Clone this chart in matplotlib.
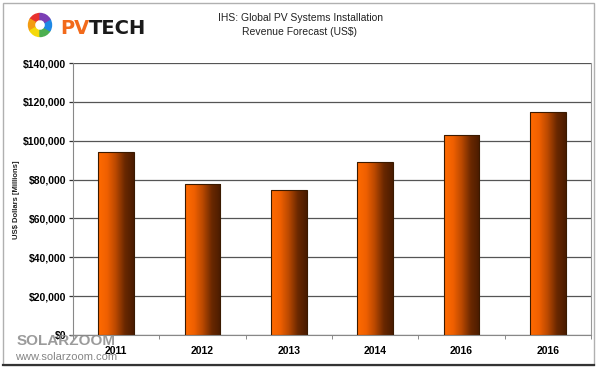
import numpy as np
import matplotlib.pyplot as plt
from matplotlib.patches import Rectangle, Wedge
from matplotlib.colors import LinearSegmentedColormap
from matplotlib.ticker import FuncFormatter

years = ['2011', '2012', '2013', '2014', '2016', '2016']
revenue = [94000, 77500, 74500, 89000, 102800, 115000]   # US$ millions
y_ticks = [0, 20000, 40000, 60000, 80000, 100000, 120000, 140000]

plt.rcParams['font.family'] = ['Liberation Sans', 'DejaVu Sans']

fig = plt.figure(figsize=(6.0, 3.69), dpi=100)
fig.patch.set_facecolor('white')

# frame around the whole picture
fig.add_artist(Rectangle((0.005, 0.01), 0.985, 0.982, transform=fig.transFigure,
                         fill=False, edgecolor='#b0b0b0', lw=1.0))
fig.add_artist(plt.Line2D([0.005, 0.99], [0.01, 0.01], transform=fig.transFigure,
                          color='#333333', lw=1.6))

ax = fig.add_axes([0.1217, 0.0921, 0.8633, 0.7369])
x = np.arange(len(years))

# bars with orange -> brown shading
cmap = LinearSegmentedColormap.from_list('bar', ['#ff6a00', '#f06000', '#b84800', '#6a2800', '#4a1c00'])
grad = np.linspace(0, 1, 64).reshape(1, -1)
bars = ax.bar(x, revenue, width=0.41, color='none', edgecolor='#3a1a00', lw=0.8, zorder=3)
for b in bars:
    x0, y0 = b.get_x(), b.get_y()
    w, h = b.get_width(), b.get_height()
    im = ax.imshow(grad, cmap=cmap, aspect='auto', extent=[x0, x0 + w, y0, y0 + h],
                   zorder=2, interpolation='bicubic')
    im.set_clip_path(b)

ax.set_xlim(-0.5, len(years) - 0.5)
ax.set_ylim(0, 140000)
ax.set_yticks(y_ticks)
ax.yaxis.set_major_formatter(FuncFormatter(lambda v, p: '\\$' + format(int(v), ',')))
ax.grid(axis='y', color='#555555', lw=0.9, zorder=1)
ax.set_axisbelow(True)

ax.set_xticks(x)
ax.set_xticklabels(years)
ax.set_xticks(np.arange(len(years) + 1) - 0.5, minor=True)
ax.tick_params(axis='x', which='major', length=0, pad=8, labelsize=7.5)
ax.tick_params(axis='x', which='minor', length=3, color='#777777')
ax.tick_params(axis='y', length=3, width=0.9, color='#333333', labelsize=7.5, pad=2)
for lab in ax.get_xticklabels() + ax.get_yticklabels():
    lab.set_fontweight('bold')

ax.spines['top'].set_visible(False)
ax.spines['right'].set_color('#999999')
ax.spines['left'].set_color('#888888')
ax.spines['bottom'].set_color('#888888')

fig.text(0.028, 0.458, 'US\\$ Dollars [Millions]', rotation=90, ha='center', va='center',
         fontsize=5.5, fontweight='bold', color='#222222')

# title
fig.text(0.50, 0.950, 'IHS: Global PV Systems Installation', ha='center', va='center',
         fontsize=7.5, color='#222222')
fig.text(0.50, 0.912, 'Revenue Forecast (US\\$)', ha='center', va='center',
         fontsize=7.5, color='#222222')

# PVTECH logo
ring_colors = ['#e8312f', '#f39c12', '#f5d90a', '#4caf50', '#1e88e5', '#7b3fb5']
for i, c in enumerate(ring_colors):
    fig.add_artist(Wedge((40, 369 - 25), 11.5, 90 + i * 60, 150 + i * 60, width=6,
                         transform=None, color=c))
pv = fig.text(0.100, 0.922, 'PV', ha='left', va='center', fontsize=14, fontweight='bold',
              family='DejaVu Sans', color='#f26a1b')
fig.canvas.draw()
bb = pv.get_window_extent().transformed(fig.transFigure.inverted())
fig.text(bb.x1, 0.922, 'TECH', ha='left', va='center', fontsize=14, fontweight='bold',
         family='DejaVu Sans', color='#1a1a1a')

# watermark
fig.text(0.11, 0.075, 'SOLARZOOM', ha='center', va='center', fontsize=11,
         fontweight='bold', color='#8a8a8a', alpha=0.85)
fig.text(0.11, 0.033, 'www.solarzoom.com', ha='center', va='center', fontsize=8,
         color='#707070', alpha=0.85)

fig.savefig('out.png', dpi=100)
